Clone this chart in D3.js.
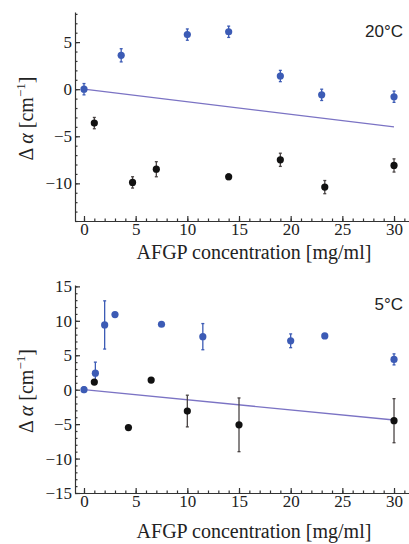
<!DOCTYPE html>
<html>
<head>
<meta charset="utf-8">
<script src="https://cdn.jsdelivr.net/npm/d3@7"></script>
<style>
  body { margin: 0; background: #fff; }
  svg { display: block; }
</style>
</head>
<body>
<div id="chart"></div>
<script>
// 20°C panel
const topBlueX = [0, 3.6, 10, 14, 19, 23, 30];
const topBlueY = [0, 3.6, 5.8, 6.1, 1.4, -0.6, -0.8];
const topBlueErr = [0.6, 0.7, 0.6, 0.6, 0.6, 0.6, 0.6];
const topBlackX = [1, 4.7, 7, 14, 19, 23.3, 30];
const topBlackY = [-3.6, -9.9, -8.5, -9.3, -7.5, -10.4, -8.1];
const topBlackErr = [0.6, 0.6, 0.8, 0.3, 0.7, 0.7, 0.7];
const topFit = [[0, 0], [30, -4]];
const topYTicks = [-10, -5, 0, 5];

// 5°C panel
const botBlueX = [0, 1.1, 2, 3, 7.5, 11.5, 20, 23.3, 30];
const botBlueY = [0, 2.4, 9.4, 10.9, 9.5, 7.7, 7.1, 7.8, 4.4];
const botBlueErr = [0.4, 1.6, 3.5, 0.3, 0.3, 1.9, 1.0, 0.3, 0.8];
const botBlackX = [1, 4.3, 6.5, 10, 15, 30];
const botBlackY = [1.1, -5.5, 1.4, -3.1, -5.1, -4.5];
const botBlackErr = [0, 0, 0, 2.3, 3.9, 3.2];
const botFit = [[0, 0], [30, -4.4]];
const botYTicks = [-15, -10, -5, 0, 5, 10, 15];

const xTicks = [0, 5, 10, 15, 20, 25, 30];

const width = 409, height = 544;
const svg = d3.select('#chart').append('svg')
    .attr('width', width)
    .attr('height', height);

const serif = '"Liberation Serif", "Times New Roman", serif';
const sans = '"Liberation Sans", Arial, sans-serif';

function panel(opt) {
    const x = d3.scaleLinear().domain([-0.87, 31.45]).range([75, 409]);
    const y = d3.scaleLinear().domain(opt.yDomain).range([opt.bottom, opt.top]);
    const g = svg.append('g');

    // minor ticks
    g.append('g')
        .attr('transform', `translate(0,${opt.bottom})`)
        .call(d3.axisBottom(x).tickValues(d3.range(0, 32, 1)).tickSize(-2.5).tickFormat(''))
        .call(s => s.select('.domain').remove());
    g.append('g')
        .attr('transform', 'translate(75,0)')
        .call(d3.axisLeft(y).tickValues(d3.range(Math.ceil(opt.yDomain[0]), opt.yDomain[1], 1)).tickSize(-2.5).tickFormat(''))
        .call(s => s.select('.domain').remove());

    // major ticks
    g.append('g')
        .attr('transform', `translate(0,${opt.bottom})`)
        .call(d3.axisBottom(x).tickValues(xTicks).tickSize(-5).tickPadding(2).tickSizeOuter(0))
        .call(s => s.selectAll('text').attr('font-size', 17).attr('font-family', serif).attr('fill', '#222'));
    g.append('g')
        .attr('transform', 'translate(75,0)')
        .call(d3.axisLeft(y).tickValues(opt.yTicks).tickSize(-5).tickPadding(3).tickSizeOuter(0)
            .tickFormat(d => d < 0 ? '\u2212' + Math.abs(d) : d))
        .call(s => s.selectAll('text').attr('font-size', 17).attr('font-family', serif).attr('fill', '#222'));
    g.selectAll('.domain, .tick line').attr('stroke', '#333').attr('stroke-width', 1.2);

    // fit line
    g.append('path')
        .attr('d', d3.line().x(d => x(d[0])).y(d => y(d[1]))(opt.fit))
        .attr('stroke', '#7b73c4')
        .attr('stroke-width', 1.3)
        .attr('fill', 'none');

    const series = [
        { xs: opt.blueX, ys: opt.blueY, es: opt.blueErr, fill: '#3c5bb5', bar: '#3c5bb5' },
        { xs: opt.blackX, ys: opt.blackY, es: opt.blackErr, fill: '#111', bar: '#4a4444' }
    ];
    series.forEach(s => {
        const pts = s.xs.map((v, i) => ({ x: v, y: s.ys[i], e: s.es[i] }));
        const eb = g.append('g').attr('stroke', s.bar).attr('stroke-width', 1.3);
        pts.filter(d => d.e > 0).forEach(d => {
            eb.append('line').attr('x1', x(d.x)).attr('x2', x(d.x))
                .attr('y1', y(d.y - d.e)).attr('y2', y(d.y + d.e));
            [d.y - d.e, d.y + d.e].forEach(v => {
                eb.append('line').attr('x1', x(d.x) - 1.5).attr('x2', x(d.x) + 1.5)
                    .attr('y1', y(v)).attr('y2', y(v));
            });
        });
        g.append('g').selectAll('circle').data(pts).join('circle')
            .attr('cx', d => x(d.x))
            .attr('cy', d => y(d.y))
            .attr('r', 3.6)
            .attr('fill', s.fill);
    });

    // temperature label
    g.append('text')
        .attr('x', 403).attr('y', opt.top + 25)
        .attr('text-anchor', 'end')
        .attr('font-family', sans)
        .attr('font-size', 17)
        .attr('fill', '#222')
        .text(opt.label);

    // x title
    g.append('text')
        .attr('x', 254).attr('y', opt.bottom + opt.titleGap)
        .attr('text-anchor', 'middle')
        .attr('font-family', serif)
        .attr('font-size', 20)
        .attr('fill', '#222')
        .text('AFGP concentration [mg/ml]');

    // y title
    const yt = g.append('text')
        .attr('transform', `translate(33,${(opt.top + opt.bottom) / 2 + 2}) rotate(-90)`)
        .attr('text-anchor', 'middle')
        .attr('font-family', serif)
        .attr('font-size', 20)
        .attr('fill', '#222');
    yt.append('tspan').text('\u0394 ');
    yt.append('tspan').attr('font-style', 'italic').text('\u03b1');
    yt.append('tspan').text(' [cm');
    yt.append('tspan').attr('dy', -8).attr('font-size', 13).text('\u22121');
    yt.append('tspan').attr('dy', 8).text(']');
}

panel({
    top: 12, bottom: 221, yDomain: [-14, 8.2], yTicks: topYTicks,
    blueX: topBlueX, blueY: topBlueY, blueErr: topBlueErr,
    blackX: topBlackX, blackY: topBlackY, blackErr: topBlackErr,
    fit: topFit, label: '20\u00b0C', titleGap: 38
});
panel({
    top: 285, bottom: 493, yDomain: [-15, 15.2], yTicks: botYTicks,
    blueX: botBlueX, blueY: botBlueY, blueErr: botBlueErr,
    blackX: botBlackX, blackY: botBlackY, blackErr: botBlackErr,
    fit: botFit, label: '5\u00b0C', titleGap: 45
});
</script>
</body>
</html>
